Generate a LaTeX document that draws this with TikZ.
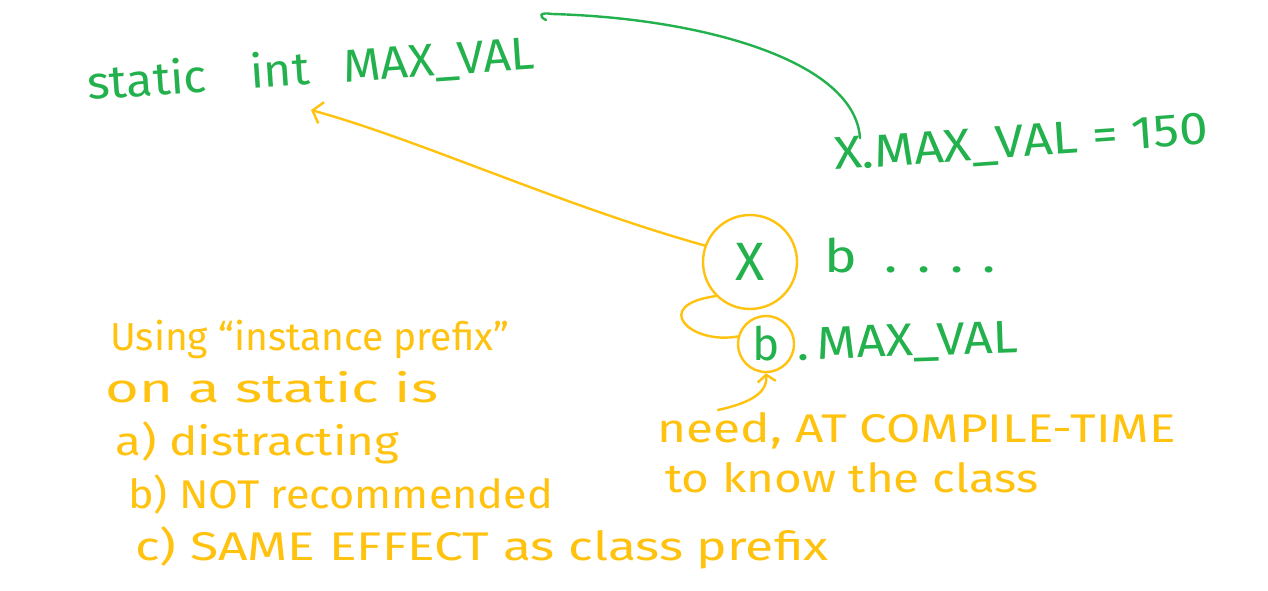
\documentclass[tikz,border=0pt]{standalone}
\usepackage{fontspec}
\setmainfont{Fira Sans}
\usetikzlibrary{arrows.meta}
\definecolor{penGreen}{RGB}{34,177,76}
\definecolor{penYellow}{RGB}{255,194,14}
\newcommand{\hw}[2]{\scalebox{#1}[1]{#2}} % stretch a word sideways, like handwriting
\tikzset{
ink/.style={inner sep=0pt, anchor=base west, font=\fontsize{46}{50}\selectfont}, % handwritten words
gtext/.style={ink, text=penGreen},
ytext/.style={ink, text=penYellow, font=\fontsize{40}{44}\selectfont},
gline/.style={draw=penGreen, line width=2.4pt, line cap=round}, % green pen
yline/.style={draw=penYellow, line width=2.4pt, line cap=round}, % yellow pen
ring/.style={circle, yline, inner sep=0pt, text=penGreen},
}

\begin{document}
\begin{tikzpicture}[x=1pt, y=-1pt]
	\fill[white] (0,0) rectangle (1268,590);
	\useasboundingbox (0,0) rectangle (1268,590);
	% the declaration and its use through the class
	\node[gtext, rotate=4] (decl) at (88,100) {\hw{1.05}{static\hspace{0.9em}int\hspace{0.7em}MAX\_VAL}};
	\node[gtext, rotate=4] (xobj) at (835,170) {\hw{1.12}{X.MAX\_VAL = 150}};
	\coordinate (hook) at (546,20);
	\draw[gline] (hook) .. controls (538,16) and (540,12) .. (552,14)
		.. controls (700,18) and (855,60) .. (xobj.north west -| 860,0) ;
	% the instance
	\node[ring, minimum size=94pt, font=\fontsize{54}{58}\selectfont] (xref) at (750,262) {X};
	\node[gtext] (bdecl) at (824,272) {\hw{1.2}{b\,\,\,. . . .}};
	\node[ring, minimum size=56pt, font=\fontsize{46}{50}\selectfont] (bref) at (766,344) {b};
	\node[gtext, rotate=2] (bval) at (797,360) {\hw{1.1}{.\,MAX\_VAL}};
	\draw[yline, -{Straight Barb[length=9pt, width=22pt]}] (xref.160) .. controls (560,205) and (420,140) .. (311,110);
	\draw[yline] (xref.225) .. controls (650,305) and (690,345) .. (bref.165);
	% notes
	\node[ytext, font=\fontsize{39}{43}\selectfont] (note1) at (110,350) {Using ``instance prefix''};
	\node[ytext] (note2) at (105,402) {\hw{1.45}{on a static is}};
	\node[ytext] (note3) at (115,455) {\hw{1.19}{a) distracting}};
	\node[ytext] (note4) at (128,508) {\hw{1.08}{b) NOT recommended}};
	\node[ytext] (note5) at (135,560) {\hw{1.29}{c) SAME EFFECT as class prefix}};
	\node[ytext] (need) at (657,442) {\hw{1.24}{need, AT COMPILE-TIME}};
	\node[ytext] (know) at (665,492) {\hw{1.19}{to know the class}};
	\coordinate (needtail) at (718,410);
	\draw[yline, -{Straight Barb[length=7pt, width=18pt]}] (needtail) .. controls (745,404) and (768,395) .. (bref.south);
\end{tikzpicture}
\end{document}
